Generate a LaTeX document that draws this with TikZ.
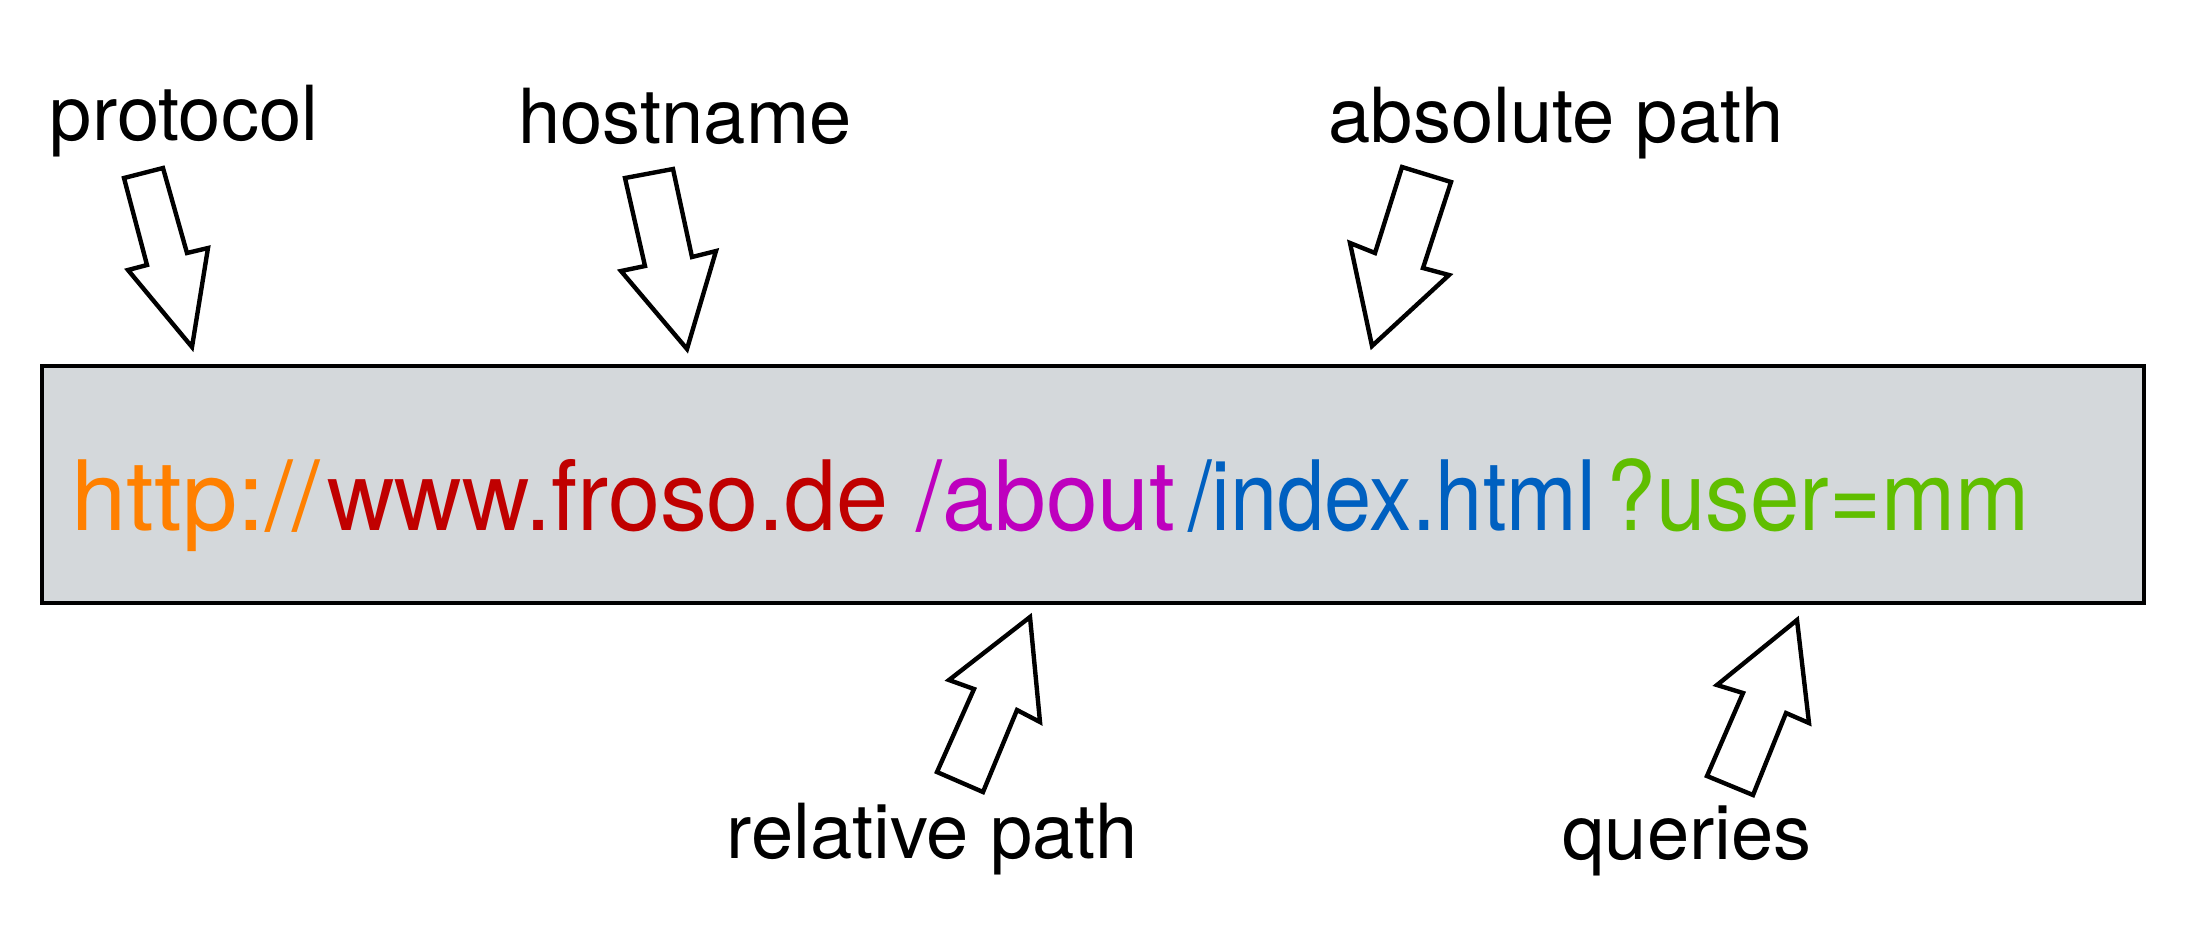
\documentclass[tikz,border=0pt]{standalone}
\usepackage{graphicx}
\usepackage{fontspec}
\setmainfont{TeX Gyre Heros}
\newfontfamily\urlfont[FakeStretch=0.95]{TeX Gyre Heros}
\definecolor{boxfill}{RGB}{212,216,219}
\definecolor{cproto}{RGB}{255,128,0}
\definecolor{chost}{RGB}{192,0,0}
\definecolor{crel}{RGB}{190,0,190}
\definecolor{cabs}{RGB}{0,96,192}
\definecolor{cquery}{RGB}{96,190,0}
\begin{document}
\begin{tikzpicture}[x=0.01cm,y=-0.01cm,
  urlpart/.style={inner sep=0pt,anchor=base,font=\urlfont\fontsize{27.6pt}{30pt}\selectfont},
  label/.style={inner sep=0pt,anchor=base,font=\fontsize{21.6pt}{24pt}\selectfont},
  blockarrow/.style={draw=black,fill=white,line width=1.25pt,line join=miter}]
\useasboundingbox (0,0) rectangle (2188,938);
% URL box
\draw[fill=boxfill,line width=1.15pt] (42,366) rectangle (2144,603);
\node[urlpart,text=cproto] (proto) at (196,530) {\scalebox{1.08}[1]{http://}};
\node[urlpart,text=chost] (host) at (608,530) {\scalebox{1.015}[1]{www.froso.de}};
\node[urlpart,text=crel] (rel) at (1046,530) {\scalebox{1.01}[1]{/about}};
\node[urlpart,text=cabs] (abs) at (1392,530) {\scalebox{0.92}[1]{/index.html}};
\node[urlpart,text=cquery] (query) at (1818,530) {\scalebox{0.965}[1]{?user=mm}};
% labels
\node[label] (lproto) at (184,140) {protocol};
\node[label] (lhost) at (685,143) {hostname};
\node[label] (labs) at (1556,142) {absolute path};
\node[label] (lrel) at (932,858) {relative path};
\node[label] (lquery) at (1687,859) {queries};
% block arrows
\draw[blockarrow] (124,178) -- (163,168) -- (187,253) -- (208,248) -- (192,347) -- (128,270) -- (147,265) -- cycle;
\draw[blockarrow] (625,178) -- (673,169) -- (692,257) -- (716,251) -- (687,349) -- (621,271) -- (645,266) -- cycle;
\draw[blockarrow] (1402,167) -- (1451,182) -- (1423,268) -- (1449,275) -- (1372,346) -- (1350,243) -- (1375,253) -- cycle;
\draw[blockarrow] (1030,617) -- (1040,722) -- (1017,710) -- (983,792) -- (937,772) -- (974,689) -- (949,680) -- cycle;
\draw[blockarrow] (1797,620) -- (1809,723) -- (1786,713) -- (1753,795) -- (1707,776) -- (1743,693) -- (1717,685) -- cycle;
\end{tikzpicture}
\end{document}
